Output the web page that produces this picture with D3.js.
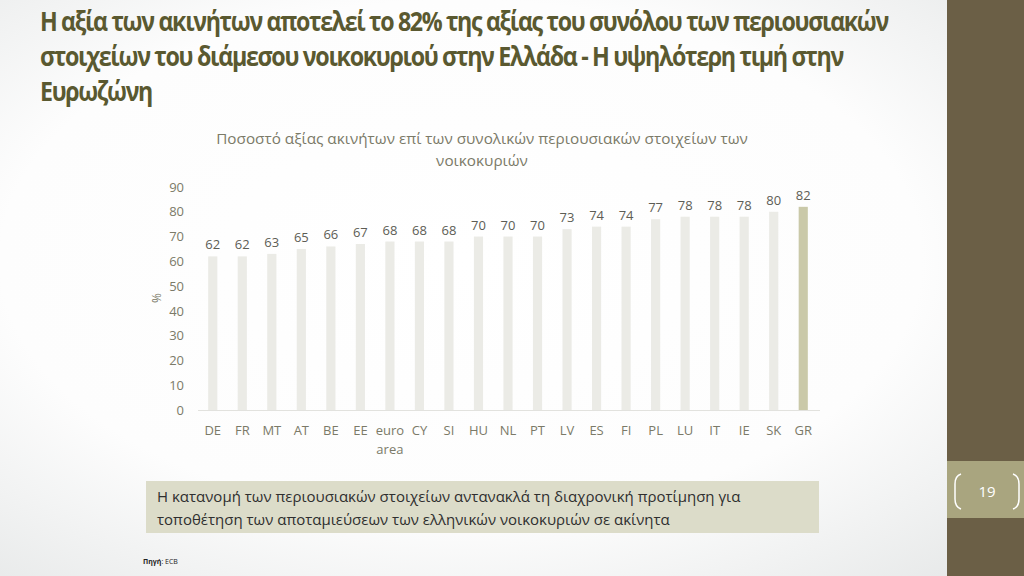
<!DOCTYPE html>
<html><head><meta charset="utf-8">
<script src="https://cdn.jsdelivr.net/npm/d3@7"></script>
<style>html,body{margin:0;padding:0;overflow:hidden;}svg{display:block;}</style>
</head><body>
<svg id="c" width="1024" height="576"></svg>
<script>
const categories = ["DE","FR","MT","AT","BE","EE","euro area","CY","SI","HU","NL","PT","LV","ES","FI","PL","LU","IT","IE","SK","GR"];
const values = [62,62,63,65,66,67,68,68,68,70,70,70,73,74,74,77,78,78,78,80,82];
const highlight = "GR";
const yTicks = [0,10,20,30,40,50,60,70,80,90];
const titleLines = ["Η αξία των ακινήτων αποτελεί το 82% της αξίας του συνόλου των περιουσιακών","στοιχείων του διάμεσου νοικοκυριού στην Ελλάδα - Η υψηλότερη τιμή στην","Ευρωζώνη"];
const chartTitle = ["Ποσοστό αξίας ακινήτων επί των συνολικών περιουσιακών στοιχείων των","νοικοκυριών"];
const captionLines = ["Η κατανομή των περιουσιακών στοιχείων αντανακλά τη διαχρονική προτίμηση για","τοποθέτηση των αποταμιεύσεων των ελληνικών νοικοκυριών σε ακίνητα"];
const pageNumber = "19";

const svg = d3.select("#c");
const defs = svg.append("defs");
const rg = defs.append("radialGradient").attr("id","bg").attr("cx","45%").attr("cy","45%").attr("r","75%");
rg.append("stop").attr("offset","0%").attr("stop-color","#ffffff");
rg.append("stop").attr("offset","60%").attr("stop-color","#fdfdfd");
rg.append("stop").attr("offset","100%").attr("stop-color","#e6e8e8");
svg.append("rect").attr("width",1024).attr("height",576).attr("fill","url(#bg)");

// right panel
svg.append("rect").attr("x",947).attr("y",0).attr("width",77).attr("height",576).attr("fill","#6b5f46");
svg.append("rect").attr("x",947).attr("y",461).attr("width",77).attr("height",57).attr("fill","#a9a57f");
svg.append("path").attr("d","M961,474 Q955,476 955,484 L955,499 Q955,507 961,509").attr("fill","none").attr("stroke","#fff").attr("stroke-width",1.5);
svg.append("path").attr("d","M1013,474 Q1019,476 1019,484 L1019,499 Q1019,507 1013,509").attr("fill","none").attr("stroke","#fff").attr("stroke-width",1.5);
svg.append("text").attr("x",987).attr("y",497).attr("text-anchor","middle").attr("font-family","Open Sans").attr("font-size",15).attr("fill","#fff").text(pageNumber);

// title
const tw = [848, 803, 112];
titleLines.forEach((t,i)=>{
  svg.append("text").attr("x",40).attr("y",31+i*35)
    .attr("font-family","Open Sans").attr("font-weight","bold").attr("font-size",26)
    .attr("fill","#5a5930").attr("letter-spacing","-1.5")
    .attr("textLength",tw[i]).attr("lengthAdjust","spacingAndGlyphs").text(t);
});

// chart title
chartTitle.forEach((t,i)=>{
  svg.append("text").attr("x",482).attr("y",144+i*22).attr("text-anchor","middle")
    .attr("font-family","Open Sans").attr("font-size",15.3).attr("fill","#7b7a68").text(t);
});

// scales
const x = d3.scaleBand().domain(categories).range([198,818]).paddingInner(0.69).paddingOuter(0.345);
const y = d3.scaleLinear().domain([0,90]).range([410,187]);

// y axis labels
const yAxis = svg.append("g").attr("transform","translate(184,0)")
  .call(d3.axisLeft(y).tickValues(yTicks).tickSize(0).tickPadding(0));
yAxis.select(".domain").remove();
yAxis.selectAll("text").attr("font-family","Open Sans").attr("font-size",13).attr("fill","#7b7a68");

svg.append("text").attr("transform","translate(161,298) rotate(-90)").attr("text-anchor","middle")
  .attr("font-family","Open Sans").attr("font-size",12).attr("fill","#7b7a68").text("%");

// bars
svg.append("g").selectAll("rect").data(categories).join("rect")
  .attr("x",d=>x(d)).attr("width",x.bandwidth())
  .attr("y",(d,i)=>y(values[i])).attr("height",(d,i)=>y(0)-y(values[i]))
  .attr("fill",d=>d===highlight?"#cac9a9":"#ebebe6");

// baseline
svg.append("line").attr("x1",198).attr("x2",820).attr("y1",410.5).attr("y2",410.5).attr("stroke","#e2e2de").attr("stroke-width",1);

// value labels
svg.append("g").selectAll("text").data(categories).join("text")
  .attr("x",d=>x(d)+x.bandwidth()/2).attr("y",(d,i)=>y(values[i])-7)
  .attr("text-anchor","middle").attr("font-family","Open Sans").attr("font-size",13).attr("fill","#5d5d55")
  .text((d,i)=>values[i]);

// x labels
const xAxis = svg.append("g").attr("transform","translate(0,410)")
  .call(d3.axisBottom(x).tickSize(0).tickPadding(0));
xAxis.select(".domain").remove();
xAxis.selectAll("text").attr("font-family","Open Sans").attr("font-size",13).attr("fill","#7b7a68")
  .attr("dy",null).attr("y",0).each(function(d){
    const t = d3.select(this); t.text(null);
    const parts = d==="euro area" ? ["euro","area"] : [d];
    parts.forEach((p,j)=>t.append("tspan").attr("x",0).attr("y",25+j*19).text(p));
  });

// caption box
svg.append("rect").attr("x",146).attr("y",481).attr("width",673).attr("height",52).attr("fill","#dcdcc9");
captionLines.forEach((t,i)=>{
  svg.append("text").attr("x",157).attr("y",502+i*23).attr("font-family","Open Sans").attr("font-size",15).attr("fill","#2f2f2f").text(t);
});

// source
const src = svg.append("text").attr("x",143).attr("y",564).attr("font-family","Open Sans").attr("font-size",7).attr("fill","#222");
src.append("tspan").attr("font-weight","bold").text("Πηγή");
src.append("tspan").text(": ECB");
</script>
</body></html>
